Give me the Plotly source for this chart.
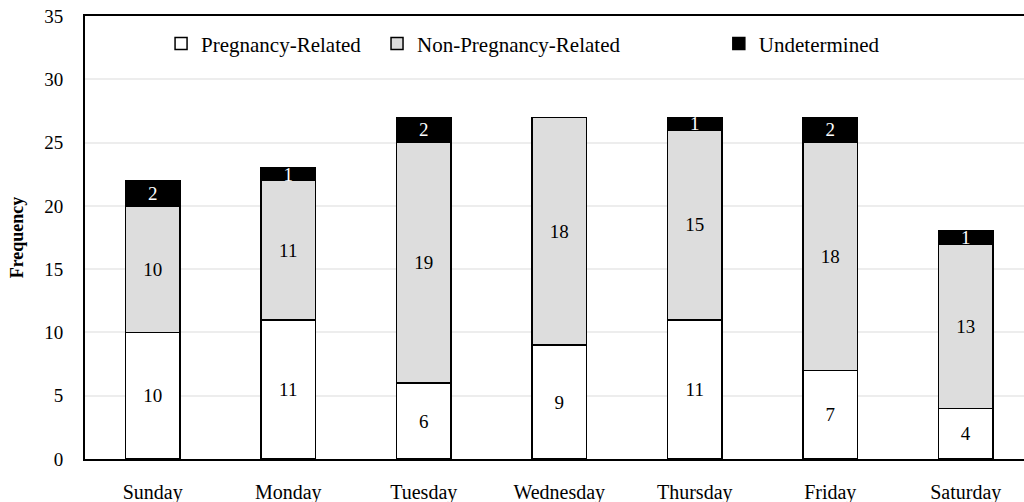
import plotly.graph_objects as go

days = ["Sunday", "Monday", "Tuesday", "Wednesday", "Thursday", "Friday", "Saturday"]
pregnancy_related = [10, 11, 6, 9, 11, 7, 4]
non_pregnancy_related = [10, 11, 19, 18, 15, 18, 13]
undetermined = [2, 1, 2, 0, 1, 2, 1]

FONT = "Times New Roman, Liberation Serif, serif"

def labels(vals):
    return [str(v) if v else "" for v in vals]

series = [
    ("Pregnancy-Related", pregnancy_related, "#FFFFFF", "#000000", "legend"),
    ("Non-Pregnancy-Related", non_pregnancy_related, "#DDDDDD", "#000000", "legend2"),
    ("Undetermined", undetermined, "#000000", "#FFFFFF", "legend3"),
]

fig = go.Figure()
for name, vals, fill, tcol, lg in series:
    fig.add_trace(go.Bar(
        x=days, y=vals, name=name, legend=lg,
        marker=dict(color=fill, line=dict(color="#000000", width=1.5)),
        text=labels(vals), textposition="inside", insidetextanchor="middle",
        textangle=0, constraintext="none",
        textfont=dict(family=FONT, size=19, color=tcol),
        width=0.4, cliponaxis=False,
    ))

legend_common = dict(orientation="h", y=0.937, xanchor="left", yanchor="middle",
                     font=dict(family=FONT, size=21, color="#000000"),
                     bgcolor="rgba(0,0,0,0)", itemwidth=30)

fig.update_layout(
    barmode="stack",
    width=1024, height=502,
    margin=dict(l=85, r=0, t=16, b=43),
    paper_bgcolor="white", plot_bgcolor="white",
    font=dict(family=FONT, size=19, color="#000000"),
    uniformtext=dict(minsize=19, mode="show"),
    showlegend=True,
    legend=dict(x=0.0810, **legend_common),
    legend2=dict(x=0.3110, **legend_common),
    legend3=dict(x=0.6750, **legend_common),
    xaxis=dict(range=[-0.5, 6.43], showline=True, linecolor="#000000", linewidth=2,
               mirror=True, showgrid=False, ticks="", ticklabelstandoff=14,
               automargin=False, tickfont=dict(family=FONT, size=20)),
    yaxis=dict(range=[0, 35], dtick=5, showline=True, linecolor="#000000", linewidth=2,
               showgrid=True, gridcolor="#EDEDED", gridwidth=1.5, zeroline=False,
               ticks="", ticklabelstandoff=16, automargin=False,
               tickfont=dict(family=FONT, size=19),
               title=dict(text="<b>Frequency</b>", font=dict(family=FONT, size=18), standoff=16)),
)

fig.write_html("out.html",
               config={"displayModeBar": False},
               post_script="document.body.style.margin='0';document.body.style.padding='0';"
                           "document.body.style.overflow='hidden';")
